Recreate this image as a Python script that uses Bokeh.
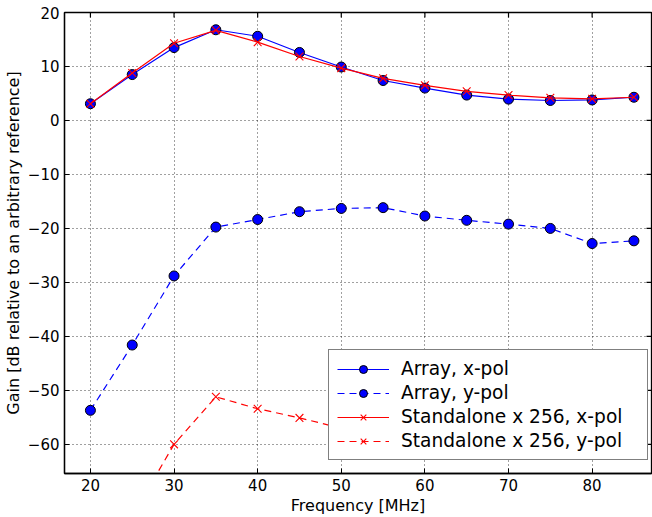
import math
from bokeh.plotting import figure
from bokeh.models import Range1d, FixedTicker, Legend, LegendItem
from bokeh.embed import file_html
from bokeh.resources import INLINE

freq = [20, 25, 30, 35, 40, 45, 50, 55, 60, 65, 70, 75, 80, 85]
array_xpol = [3.1, 8.5, 13.5, 16.8, 15.6, 12.6, 9.9, 7.4, 6.0, 4.7, 3.95, 3.7, 3.8, 4.3]
array_ypol = [-53.7, -41.6, -28.8, -19.75, -18.35, -16.9, -16.3, -16.15, -17.7, -18.5, -19.2, -20.0, -22.8, -22.3]
stand_xpol = [3.1, 8.8, 14.3, 16.7, 14.5, 11.85, 9.7, 7.8, 6.5, 5.4, 4.7, 4.2, 4.0, 4.3]
stand_ypol = [-80.0, -73.3, -60.0, -51.2, -53.4, -55.1, -57.0, -57.5, -58.0, -58.5, -59.0, -59.5, -60.0, -60.5]
x_ticks = [20, 30, 40, 50, 60, 70, 80]
y_ticks = [-60, -50, -40, -30, -20, -10, 0, 10, 20]

X_LO, X_HI = 16.9, 87.1
Y_LO, Y_HI = -65.4, 20.0

FONT = "DejaVu Sans"
BLUE = "#0000ff"
RED = "#ff0000"

p = figure(width=652, height=517, output_backend="svg", toolbar_location=None,
           x_range=Range1d(X_LO, X_HI), y_range=Range1d(Y_LO, Y_HI),
           min_border_left=64, min_border_right=1, min_border_top=12, min_border_bottom=44)
p.background_fill_color = "white"
p.border_fill_color = "white"
p.outline_line_color = "black"
p.outline_line_width = 1.3

for ax in (p.xaxis[0], p.yaxis[0]):
    ax.major_tick_in = 5
    ax.major_tick_out = 0
    ax.minor_tick_line_color = None
    ax.axis_line_color = "black"
    ax.axis_line_width = 1.3
    ax.major_label_text_font = FONT
    ax.major_label_text_font_size = "15px"
    ax.major_label_text_color = "black"
    ax.axis_label_text_font = FONT
    ax.axis_label_text_font_style = "normal"
    ax.axis_label_text_color = "black"
    ax.axis_label_text_font_size = "16px"

p.xaxis[0].ticker = FixedTicker(ticks=x_ticks)
p.yaxis[0].ticker = FixedTicker(ticks=y_ticks)
p.xaxis[0].axis_label = "Frequency [MHz]"
p.yaxis[0].axis_label = "Gain [dB relative to an arbitrary reference]"
p.xaxis[0].major_label_standoff = 5
p.yaxis[0].major_label_standoff = 5
p.xaxis[0].axis_label_standoff = 2
p.yaxis[0].axis_label_standoff = 2

p.xgrid.ticker = FixedTicker(ticks=x_ticks)
p.ygrid.ticker = FixedTicker(ticks=y_ticks)
for g in (p.xgrid[0], p.ygrid[0]):
    g.grid_line_color = "black"
    g.grid_line_alpha = 0.75
    g.grid_line_dash = "1 3"
    g.grid_line_width = 1

# tick marks on the top and right frame edges (inside), like the reference
p.scatter(x_ticks, [Y_HI] * len(x_ticks), marker="dash", size=10, angle=math.pi / 2,
          line_color="black", line_width=1.2)
p.scatter([X_HI] * len(y_ticks), y_ticks, marker="dash", size=10,
          line_color="black", line_width=1.2)

r1l = p.line(freq, array_xpol, line_color=BLUE, line_width=1.2)
r1m = p.scatter(freq, array_xpol, marker="circle", size=10, fill_color=BLUE, line_color="black", line_width=1)
r2l = p.line(freq, array_ypol, line_color=BLUE, line_width=1.2, line_dash="7 5")
r2m = p.scatter(freq, array_ypol, marker="circle", size=10, fill_color=BLUE, line_color="black", line_width=1)
r3l = p.line(freq, stand_xpol, line_color=RED, line_width=1.2)
r3m = p.scatter(freq, stand_xpol, marker="x", size=11, line_color=RED, line_width=1.1)
r4l = p.line(freq, stand_ypol, line_color=RED, line_width=1.2, line_dash="7 5")
r4m = p.scatter(freq, stand_ypol, marker="x", size=11, line_color=RED, line_width=1.1)

legend = Legend(items=[
    LegendItem(label="Array, x-pol", renderers=[r1l, r1m]),
    LegendItem(label="Array, y-pol", renderers=[r2l, r2m]),
    LegendItem(label="Standalone x 256, x-pol", renderers=[r3l, r3m]),
    LegendItem(label="Standalone x 256, y-pol", renderers=[r4l, r4m]),
], location=(264, 13))
legend.label_text_font = FONT
legend.label_text_font_size = "18.6px"
legend.label_text_color = "black"
legend.glyph_width = 52
legend.glyph_height = 20
legend.label_height = 20
legend.label_width = 238
legend.spacing = 3
legend.padding = 8
legend.margin = 0
legend.label_standoff = 12
legend.border_line_color = "black"
legend.border_line_width = 1.2
legend.background_fill_alpha = 1.0
p.add_layout(legend)

open("out.html", "w").write(file_html(p, INLINE))
